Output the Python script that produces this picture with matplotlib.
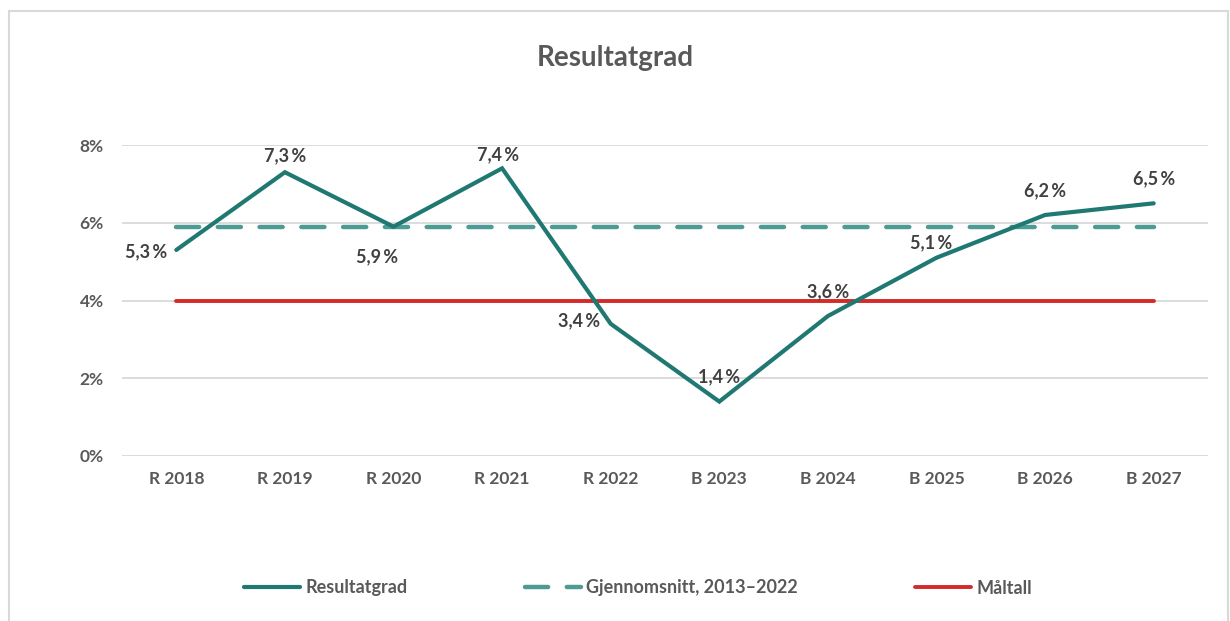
import matplotlib.pyplot as plt
from matplotlib.lines import Line2D
from matplotlib.patches import Rectangle
import numpy as np

plt.rcParams['font.family'] = ['Lato', 'DejaVu Sans']

# Data
categories = ['R 2018', 'R 2019', 'R 2020', 'R 2021', 'R 2022',
              'B 2023', 'B 2024', 'B 2025', 'B 2026', 'B 2027']
resultatgrad = [5.3, 7.3, 5.9, 7.4, 3.4, 1.4, 3.6, 5.1, 6.2, 6.5]
gjennomsnitt = [5.9] * len(categories)
maltall = [4.0] * len(categories)
yticks = [0, 2, 4, 6, 8]

# label offsets in pixels (dx, dy)
label_offsets = [(-30, -2), (0, 16), (-16, -30), (-4, 14), (-32, 3),
                 (0, 25), (0, 24), (-5, 15), (0, 24), (0, 25)]

teal = '#1F7872'
teal_light = '#4E9A94'
red = '#D42A2A'
grey = '#595959'

fig = plt.figure(figsize=(12.30, 6.21), dpi=100)
ax = fig.add_axes([122 / 1230, 1 - 456 / 621, (1208 - 122) / 1230, (456 - 145) / 621])

x = np.arange(len(categories))
ax.plot(x, gjennomsnitt, color=teal_light, lw=3.2, dashes=(5.2, 4.2),
        dash_capstyle='round', solid_capstyle='round', zorder=3)
ax.plot(x, maltall, color=red, lw=2.8, solid_capstyle='round', zorder=3)
ax.plot(x, resultatgrad, color=teal, lw=3.0, solid_capstyle='round',
        solid_joinstyle='miter', zorder=4)

for xi, v, (dx, dy) in zip(x, resultatgrad, label_offsets):
    ax.annotate(f'{v:.1f}'.replace('.', ',') + '\u2009%', (xi, v),
                xytext=(dx, dy), textcoords='offset pixels',
                ha='center', va='center', fontsize=13, fontweight='bold',
                color='#404040', zorder=5)

ax.set_xlim(-0.5, len(categories) - 0.5)
ax.set_ylim(0, 8)
ax.set_yticks(yticks)
ax.set_yticklabels([f'{t}%' for t in yticks])
ax.set_xticks(x)
ax.set_xticklabels(categories)
ax.grid(axis='y', color='#D9D9D9', lw=1.3)
ax.set_axisbelow(True)
for s in ax.spines.values():
    s.set_visible(False)
ax.tick_params(length=0, colors=grey, labelsize=12.5)
ax.tick_params(axis='y', pad=13)
ax.tick_params(axis='x', pad=11)
for lab in ax.get_xticklabels() + ax.get_yticklabels():
    lab.set_fontweight('bold')

fig.text(615 / 1230, 1 - 58 / 621, 'Resultatgrad', ha='center', va='center',
         fontsize=20, fontweight='bold', color=grey)

handles = [Line2D([], [], color=teal, lw=3.0, solid_capstyle='round'),
           Line2D([], [], color=teal_light, lw=3.2, dashes=(5.2, 4.2), dash_capstyle='round'),
           Line2D([], [], color=red, lw=2.8, solid_capstyle='round')]
fig.legend(handles, ['Resultatgrad', 'Gjennomsnitt, 2013\u20132022', 'Måltall'],
           loc='center', bbox_to_anchor=(638 / 1230, 1 - 588 / 621), ncol=3,
           frameon=False, handlelength=3.1, handletextpad=0.3,
           columnspacing=6.5, labelcolor=grey,
           prop={'weight': 'bold', 'size': 13})

fig.patches.append(Rectangle((9 / 1230, -0.01), (1228 - 9) / 1230, 1 - 11 / 621 + 0.01,
                             transform=fig.transFigure, fill=False,
                             edgecolor='#D9D9D9', lw=1.5))

fig.savefig('out.png', dpi=100)
